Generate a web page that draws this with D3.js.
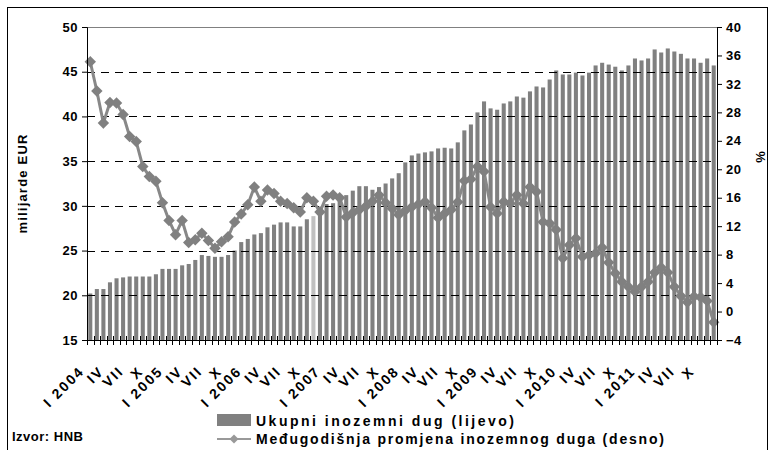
<!DOCTYPE html>
<html lang="hr">
<head>
<meta charset="utf-8">
<title>Inozemni dug</title>
<script src="https://cdnjs.cloudflare.com/ajax/libs/d3/7.8.5/d3.min.js"></script>
<style>
  body { margin: 0; background: #fff; }
  svg text { font-family: Arial, "Liberation Sans", sans-serif; font-weight: bold; fill: #000; }
</style>
</head>
<body>
<script>
// months Jan 2004 - Dec 2011
var years = [2004, 2005, 2006, 2007, 2008, 2009, 2010, 2011];
var romans = ["I", "II", "III", "IV", "V", "VI", "VII", "VIII", "IX", "X", "XI", "XII"];

// ukupni inozemni dug, mlrd EUR (lijevo)
var debt = [
  20.2, 20.7, 20.7, 21.45, 21.9, 22.0, 22.1, 22.1, 22.1, 22.1, 22.35, 22.95,
  22.95, 22.95, 23.35, 23.5, 23.95, 24.5, 24.4, 24.3, 24.3, 24.5, 25.0, 25.95,
  26.3, 26.8, 26.95, 27.6, 27.9, 28.15, 28.15, 27.7, 27.7, 28.5, 28.85, 29.9,
  30.2, 30.3, 30.6, 31.2, 31.7, 32.2, 32.2, 31.8, 32.1, 32.5, 33.07, 33.65,
  34.86, 35.64, 35.85, 35.98, 36.09, 36.42, 36.5, 36.42, 37.1, 38.44, 39.1, 40.45,
  41.68, 40.9, 40.75, 41.45, 41.68, 42.23, 42.1, 42.8, 43.35, 43.24, 44.13, 45.14,
  44.69, 44.69, 44.9, 44.58, 44.9, 45.7, 46.0, 45.8, 45.56, 45.14, 45.7, 46.48,
  46.26, 46.48, 47.49, 47.15, 47.6, 47.26, 47.0, 46.48, 46.48, 46.0, 46.48, 45.7
];

// medjugodisnja promjena, % (desno)
var yoy = [
  35.1, 31.0, 26.5, 29.4, 29.3, 27.7, 24.6, 23.9, 20.4, 19.0, 18.3, 15.3,
  12.8, 10.8, 12.8, 9.7, 10.1, 11.0, 10.0, 8.9, 9.8, 10.5, 12.6, 13.7,
  15.0, 17.5, 15.5, 17.1, 16.6, 15.5, 15.2, 14.6, 14.0, 16.0, 15.5, 14.0,
  16.2, 16.4, 16.0, 13.3, 13.9, 14.3, 14.8, 15.5, 16.4, 15.3, 14.5, 13.6,
  14.2, 14.7, 15.1, 15.45, 14.6, 13.2, 13.8, 14.3, 15.4, 18.4, 18.6, 20.4,
  19.7, 14.7, 13.8, 15.45, 15.2, 16.4, 15.2, 17.5, 16.85, 12.6, 12.4, 11.5,
  7.5, 9.35, 10.3, 7.7, 7.95, 8.2, 9.0, 6.9, 5.4, 4.2, 3.5, 2.8,
  3.5, 4.2, 5.5, 6.2, 5.5, 3.5, 2.2, 1.3, 2.1, 2.0, 1.5, -1.5
];

var leftTicks = [15, 20, 25, 30, 35, 40, 45, 50];
var rightTicks = [-4, 0, 4, 8, 12, 16, 20, 24, 28, 32, 36, 40];
var gridTicks = [20, 25, 30, 35, 40, 45];
var labelMonths = ["I", "IV", "VII", "X"];

var months = [];
years.forEach(function(y) {
  romans.forEach(function(r) { months.push(r + " " + y); });
});

var width = 772, height = 450;
var margin = {top: 27, right: 55, bottom: 110, left: 87};
var plotW = width - margin.left - margin.right,
    plotH = height - margin.top - margin.bottom;

var svg = d3.select("body").append("svg")
    .attr("width", width)
    .attr("height", height);

// outer frame
svg.append("rect")
    .attr("x", 7.5).attr("y", 7.5)
    .attr("width", 760).attr("height", 460)
    .attr("fill", "none").attr("stroke", "#000");

var g = svg.append("g")
    .attr("transform", "translate(" + margin.left + "," + margin.top + ")");

var x = d3.scaleBand().domain(months).range([0, plotW]).paddingInner(0.38).paddingOuter(0.19);
var yL = d3.scaleLinear().domain([15, 50]).range([plotH, 0]);
var yR = d3.scaleLinear().domain([-4, 40]).range([plotH, 0]);
var cx = function(m) { return x(m) + x.bandwidth() / 2; };

// top border of plot
g.append("line")
    .attr("x1", 0).attr("x2", plotW).attr("y1", 0.5).attr("y2", 0.5)
    .attr("stroke", "#808080");

// bars
g.selectAll(".bar")
    .data(debt)
    .enter().append("rect")
    .attr("class", "bar")
    .attr("x", function(d, i) { return x(months[i]); })
    .attr("width", x.bandwidth())
    .attr("y", function(d) { return yL(d); })
    .attr("height", function(d) { return plotH - yL(d); })
    .attr("fill", function(d, i) { return i === 34 ? "#c0c0c0" : "#808080"; });

// dashed gridlines
g.selectAll(".grid")
    .data(gridTicks)
    .enter().append("line")
    .attr("x1", 0).attr("x2", plotW)
    .attr("y1", function(d) { return Math.round(yL(d)) + 0.5; })
    .attr("y2", function(d) { return Math.round(yL(d)) + 0.5; })
    .attr("stroke", "#000")
    .attr("stroke-dasharray", "8,6");

// line series
var line = d3.line()
    .x(function(d, i) { return cx(months[i]); })
    .y(function(d) { return yR(d); });

g.append("path")
    .datum(yoy)
    .attr("d", line)
    .attr("fill", "none")
    .attr("stroke", "#888")
    .attr("stroke-width", 3);

var diamond = d3.symbol().type(d3.symbolSquare).size(66);
g.selectAll(".mk")
    .data(yoy)
    .enter().append("path")
    .attr("d", diamond)
    .attr("transform", function(d, i) {
      return "translate(" + cx(months[i]) + "," + yR(d) + ") rotate(45)";
    })
    .attr("fill", "#808080");

// left axis
var axL = g.append("g")
    .call(d3.axisLeft(yL).tickValues(leftTicks).tickSize(5).tickPadding(4));
// right axis
var axR = g.append("g")
    .attr("transform", "translate(" + plotW + ",0)")
    .call(d3.axisRight(yR).tickValues(rightTicks).tickSize(5).tickPadding(4));
[axL, axR].forEach(function(a) {
  a.select(".domain").attr("stroke", "#000");
  a.selectAll("text").style("font-size", "13px").style("letter-spacing", "0.5px").attr("fill", "#000");
});

// bottom axis with month ticks
var axB = g.append("g").attr("transform", "translate(0," + plotH + ")");
axB.append("line").attr("x1", 0).attr("x2", plotW).attr("y1", 0.5).attr("y2", 0.5).attr("stroke", "#000");
var step = x.step();
axB.selectAll(".mt")
    .data(d3.range(months.length + 1))
    .enter().append("line")
    .attr("x1", function(i) { return Math.round(i * step) + 0.5; })
    .attr("x2", function(i) { return Math.round(i * step) + 0.5; })
    .attr("y1", -4).attr("y2", 5)
    .attr("stroke", "#000");

axB.selectAll(".ml")
    .data(months.filter(function(m) { return labelMonths.indexOf(m.split(" ")[0]) >= 0; }))
    .enter().append("text")
    .attr("transform", function(m) { return "translate(" + (cx(m) - 5) + ",32) rotate(-45)"; })
    .attr("text-anchor", "end")
    .style("font-size", "14px")
    .style("letter-spacing", "2px")
    .text(function(m) { return m.indexOf("I ") === 0 ? m : m.split(" ")[0]; });

// axis titles
svg.append("text")
    .attr("transform", "translate(27," + (margin.top + plotH / 2) + ") rotate(-90)")
    .attr("text-anchor", "middle")
    .style("font-size", "13px")
    .style("letter-spacing", "1.2px")
    .text("milijarde EUR");
svg.append("text")
    .attr("transform", "translate(765," + 157 + ") rotate(-90)")
    .attr("text-anchor", "middle")
    .style("font-size", "13px")
    .text("%");

// legend
var lg = svg.append("g").attr("transform", "translate(217,0)");
lg.append("rect").attr("x", 0).attr("y", 414).attr("width", 34).attr("height", 12).attr("fill", "#808080");
lg.append("text").attr("x", 39).attr("y", 426).style("font-size", "14px")
    .attr("textLength", 258).attr("lengthAdjust", "spacing")
    .text("Ukupni inozemni dug (lijevo)");
lg.append("line").attr("x1", 0).attr("x2", 34).attr("y1", 439).attr("y2", 439).attr("stroke", "#999").attr("stroke-width", 2);
lg.append("path").attr("d", d3.symbol().type(d3.symbolSquare).size(40))
    .attr("transform", "translate(17,439) rotate(45)").attr("fill", "#999");
lg.append("text").attr("x", 39).attr("y", 444).style("font-size", "14px")
    .attr("textLength", 408).attr("lengthAdjust", "spacing")
    .text("Međugodišnja promjena inozemnog duga (desno)");

svg.append("text").attr("x", 12).attr("y", 441).style("font-size", "13px").style("letter-spacing", "0.5px").text("Izvor: HNB");
</script>
</body>
</html>
